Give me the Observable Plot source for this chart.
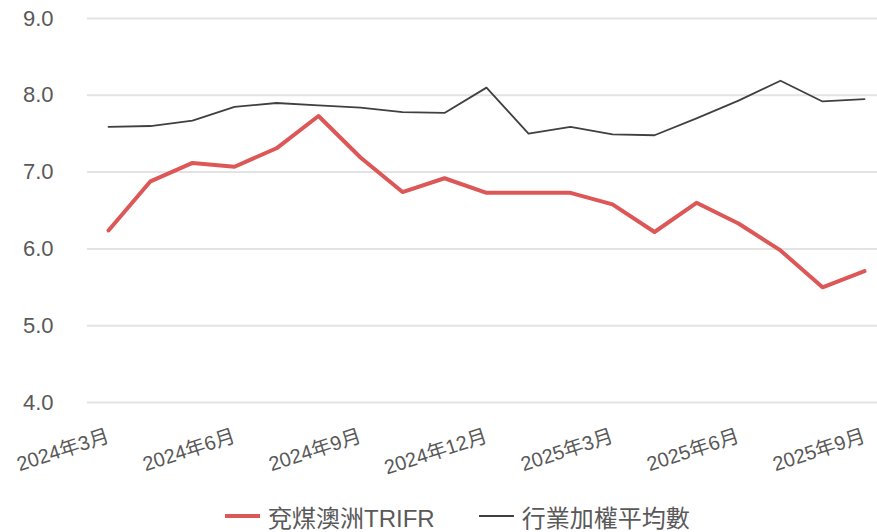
<!DOCTYPE html>
<html>
<head>
<meta charset="utf-8">
<script src="https://cdn.jsdelivr.net/npm/d3@7"></script>
<script src="https://cdn.jsdelivr.net/npm/@observablehq/plot@0.6"></script>
<style>
  html, body { margin: 0; padding: 0; background: #ffffff; }
  body { width: 877px; height: 532px; overflow: hidden; font-family: "Liberation Sans", "Noto Sans CJK TC", Arial, sans-serif; }
  #legend { height: 52px; display: flex; justify-content: flex-start; align-items: center; padding-left: 225px; padding-top: 20px; box-sizing: border-box; font-size: 24px; color: #595959; white-space: nowrap; }
  .item { display: flex; align-items: center; margin-right: 44px; }
  .sw { display: inline-block; width: 35px; margin-right: 8px; }
</style>
</head>
<body>
<div id="chart"></div>
<div id="legend"></div>
<script>
const months = ["2024年3月","2024年4月","2024年5月","2024年6月","2024年7月","2024年8月","2024年9月","2024年10月","2024年11月","2024年12月","2025年1月","2025年2月","2025年3月","2025年4月","2025年5月","2025年6月","2025年7月","2025年8月","2025年9月"];
const yancoal = [6.24,6.88,7.12,7.07,7.31,7.73,7.19,6.74,6.92,6.73,6.73,6.73,6.58,6.22,6.60,6.33,5.98,5.50,5.71];
const industry = [7.59,7.60,7.67,7.85,7.90,7.87,7.84,7.78,7.77,8.10,7.50,7.59,7.49,7.48,7.70,7.93,8.19,7.92,7.95];
const seriesNames = ["兗煤澳洲TRIFR","行業加權平均數"];
const seriesColors = ["#dd5757","#404040"];
const xTicks = ["2024年3月","2024年6月","2024年9月","2024年12月","2025年3月","2025年6月","2025年9月"];
const yTicks = [4,5,6,7,8,9];

const rowsA = months.map((m,i)=>({month:m, value:yancoal[i]}));
const rowsB = months.map((m,i)=>({month:m, value:industry[i]}));

const chart = Plot.plot({
  width: 877, height: 480,
  marginLeft: 87, marginRight: 0, marginTop: 18, marginBottom: 78,
  style: {fontFamily: '"Liberation Sans", "Noto Sans CJK TC", Arial, sans-serif', background: "#ffffff"},
  x: {type: "point", domain: months, padding: 0, insetLeft: 21, insetRight: 13},
  y: {domain: [4, 9]},
  marks: [
    Plot.gridY(yTicks, {stroke: "#e3e3e3", strokeOpacity: 1, strokeWidth: 2}),
    Plot.axisY(yTicks, {tickSize: 0, tickPadding: 34, tickFormat: d => d.toFixed(1), fontSize: 22, fill: "#595959", label: null}),
    Plot.axisX(xTicks, {tickSize: 0, tickRotate: -18, tickPadding: 33, fontSize: 20, fill: "#595959", label: null}),
    Plot.line(rowsB, {x: "month", y: "value", stroke: seriesColors[1], strokeWidth: 1.8}),
    Plot.line(rowsA, {x: "month", y: "value", stroke: seriesColors[0], strokeWidth: 4})
  ]
});
document.getElementById("chart").appendChild(chart);

const legend = document.getElementById("legend");
seriesNames.forEach((n,i)=>{
  const it = document.createElement("div"); it.className = "item";
  const sw = document.createElement("span"); sw.className = "sw";
  sw.style.borderTop = (i===0 ? 4 : 2) + "px solid " + seriesColors[i];
  const t = document.createElement("span"); t.textContent = n;
  it.appendChild(sw); it.appendChild(t); legend.appendChild(it);
});
</script>
</body>
</html>
